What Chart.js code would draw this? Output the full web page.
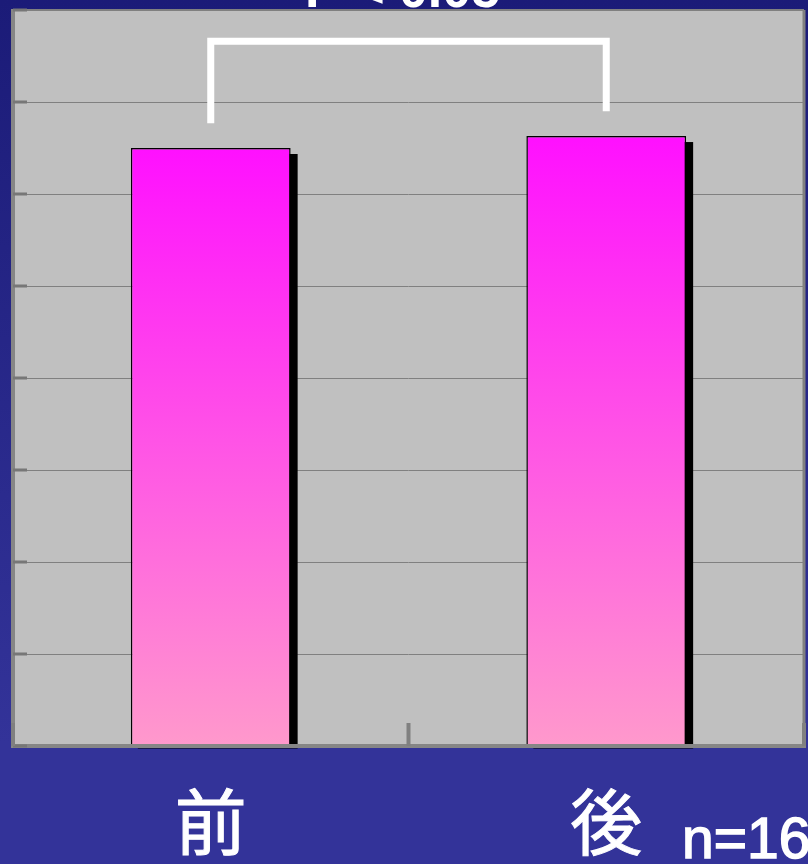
<!DOCTYPE html>
<html>
<head>
<meta charset="utf-8">
<script src="https://cdn.jsdelivr.net/npm/chart.js@4.4.1/dist/chart.umd.min.js"></script>
<style>
  html, body { margin: 0; padding: 0; background: #333399; }
  #wrap { width: 808px; height: 864px; }
</style>
</head>
<body>
<div id="wrap"><canvas id="chart" width="808" height="864"></canvas></div>
<script>
// Chart values
const categories = ["前", "後"];
const values = [6.5, 6.63];
const yMax = 8;
const yStep = 1;
const pLabel = "P < 0.05";
const nLabel = "n=16";
const bracketValue = 7.66; // level of the significance bracket
const bracketGap = 0.27;   // space between bar top and bracket leg

// Bar fill: magenta at the top fading to pink at the base
function barGradient(context) {
  const chart = context.chart;
  const area = chart.chartArea;
  if (!area) return "#ff40f0";
  const y = chart.scales.y.getPixelForValue(values[context.dataIndex]);
  const g = chart.ctx.createLinearGradient(0, y, 0, area.bottom);
  g.addColorStop(0, "#ff10ff");
  g.addColorStop(1, "#ff99cc");
  return g;
}

const decor = {
  id: "decor",
  beforeDraw(chart) {
    const { ctx, chartArea: a, width, height } = chart;
    ctx.save();
    const bg = ctx.createLinearGradient(0, 0, 0, height);
    bg.addColorStop(0, "#1b1b78");
    bg.addColorStop(0.86, "#333399");
    ctx.fillStyle = bg;
    ctx.fillRect(0, 0, width, height);
    ctx.fillStyle = "#c0c0c0";
    ctx.fillRect(a.left, a.top, a.right - a.left, a.bottom - a.top);
    ctx.restore();
  },
  beforeDatasetsDraw(chart) {
    // black drop shadow behind each bar
    const ctx = chart.ctx;
    ctx.save();
    ctx.fillStyle = "#000";
    chart.getDatasetMeta(0).data.forEach((bar) => {
      const p = bar.getProps(["x", "y", "base", "width"], true);
      ctx.fillRect(p.x - p.width / 2 + 7, p.y + 6, p.width, p.base - p.y - 3);
    });
    ctx.restore();
  },
  afterDatasetsDraw(chart) {
    const { ctx, chartArea: a } = chart;
    const xs = chart.scales.x;
    const ys = chart.scales.y;
    ctx.save();

    // plot frame
    ctx.strokeStyle = "#808080";
    ctx.lineWidth = 2;
    ctx.beginPath();
    ctx.moveTo(a.left, a.top);
    ctx.lineTo(a.right, a.top);
    ctx.stroke();
    ctx.lineWidth = 3;
    ctx.beginPath();
    ctx.moveTo(a.right, a.top);
    ctx.lineTo(a.right, a.bottom);
    ctx.stroke();
    ctx.strokeStyle = "#868686";
    ctx.lineWidth = 4;
    ctx.beginPath();
    ctx.moveTo(a.left, a.top - 1);
    ctx.lineTo(a.left, a.bottom);
    ctx.lineTo(a.right + 2, a.bottom);
    ctx.stroke();

    // inward tick marks on the value axis
    ctx.strokeStyle = "#777777";
    ctx.lineWidth = 3;
    ys.ticks.forEach((t) => {
      const y = Math.round(ys.getPixelForValue(t.value));
      ctx.beginPath();
      ctx.moveTo(a.left, y);
      ctx.lineTo(a.left + 14, y);
      ctx.stroke();
    });

    // category boundary ticks
    ctx.strokeStyle = "#808080";
    ctx.lineWidth = 4;
    const half = (xs.getPixelForValue(1) - xs.getPixelForValue(0)) / 2;
    for (let i = 0; i <= categories.length; i++) {
      const x = xs.getPixelForValue(0) - half + i * half * 2;
      ctx.beginPath();
      ctx.moveTo(x, a.bottom);
      ctx.lineTo(x, a.bottom - 23);
      ctx.stroke();
    }

    // significance bracket
    const by = ys.getPixelForValue(bracketValue);
    const x0 = xs.getPixelForValue(0);
    const x1 = xs.getPixelForValue(1);
    ctx.strokeStyle = "#ffffff";
    ctx.lineWidth = 7;
    ctx.lineCap = "butt";
    ctx.beginPath();
    ctx.moveTo(x0, ys.getPixelForValue(values[0] + bracketGap));
    ctx.lineTo(x0, by);
    ctx.lineTo(x1, by);
    ctx.lineTo(x1, ys.getPixelForValue(values[1] + bracketGap));
    ctx.stroke();

    // texts
    ctx.fillStyle = "#ffffff";
    ctx.strokeStyle = "#ffffff";
    ctx.textBaseline = "alphabetic";
    ctx.textAlign = "left";
    ctx.font = "bold 52px 'Liberation Sans', Arial, sans-serif";
    ctx.fillText(pLabel, 305, 7);

    ctx.textAlign = "center";
    ctx.font = "72px 'Noto Sans CJK JP', sans-serif";
    ctx.lineWidth = 1;
    categories.forEach((c, i) => {
      ctx.fillText(c, xs.getPixelForValue(i), 849);
      ctx.strokeText(c, xs.getPixelForValue(i), 849);
    });

    ctx.textAlign = "left";
    ctx.font = "57px 'Liberation Sans', Arial, sans-serif";
    ctx.lineWidth = 1.5;
    ctx.fillText(nLabel, 682, 858);
    ctx.strokeText(nLabel, 682, 858);
    ctx.restore();
  }
};

new Chart(document.getElementById("chart").getContext("2d"), {
  type: "bar",
  data: {
    labels: categories,
    datasets: [
      {
        data: values,
        backgroundColor: barGradient,
        borderColor: "#000000",
        borderWidth: 1.5,
        borderSkipped: "bottom",
        barPercentage: 0.404,
        categoryPercentage: 1,
      },
    ],
  },
  options: {
    responsive: false,
    animation: false,
    layout: { padding: { left: 13, right: 4, top: 10, bottom: 110 } },
    plugins: { legend: { display: false }, tooltip: { enabled: false } },
    scales: {
      x: {
        grid: { display: false },
        border: { display: false },
        ticks: { display: false },
      },
      y: {
        min: 0,
        max: yMax,
        ticks: { display: false, stepSize: yStep },
        grid: { color: "#808080", lineWidth: 1, drawTicks: false },
        border: { display: false },
      },
    },
  },
  plugins: [decor],
});
</script>
</body>
</html>
